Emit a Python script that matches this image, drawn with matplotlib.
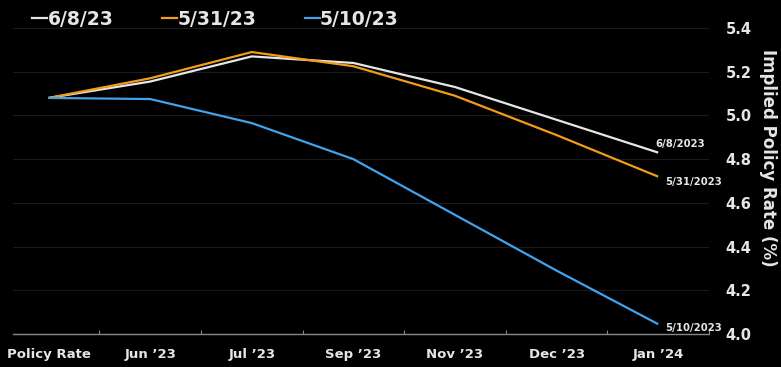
import matplotlib.pyplot as plt
from matplotlib.lines import Line2D
import numpy as np

# Data
categories = ['Policy Rate', 'Jun \u201923', 'Jul \u201923', 'Sep \u201923', 'Nov \u201923', 'Dec \u201923', 'Jan \u201924']
curve_jun8 = [5.08, 5.155, 5.27, 5.24, 5.13, 4.98, 4.83]
curve_may31 = [5.08, 5.17, 5.29, 5.225, 5.09, 4.91, 4.72]
curve_may10 = [5.08, 5.075, 4.965, 4.80, 4.545, 4.29, 4.045]
legend_labels = ['6/8/23', '5/31/23', '5/10/23']
end_labels = ['6/8/2023', '5/31/2023', '5/10/2023']
yticks = [4.0, 4.2, 4.4, 4.6, 4.8, 5.0, 5.2, 5.4]

colors = ['#e6e6e6', '#f39c1a', '#42a2ec']
series = [curve_jun8, curve_may31, curve_may10]

plt.rcParams['font.family'] = 'DejaVu Sans'
plt.rcParams['font.weight'] = 'bold'

fig = plt.figure(figsize=(7.81, 3.67), dpi=100, facecolor='black')
ax = fig.add_axes([13 / 781, 1 - 334 / 367, (709 - 13) / 781, (334 - 28) / 367])
ax.set_facecolor('black')

x = np.arange(len(categories))
for vals, c in zip(series, colors):
    ax.plot(x, vals, color=c, linewidth=1.6, solid_capstyle='butt')

# end-of-line labels
offsets = [(-2, 6), (5, -4), (5, -3)]
for vals, lab, off in zip(series, end_labels, offsets):
    ax.annotate(lab, (x[-1], vals[-1]), xytext=off, textcoords='offset points',
                color='#e6e6e6', fontsize=7.3, fontweight='bold',
                ha='left', va='center')

ax.set_xlim(-0.35, 6.5)
ax.set_ylim(4.0, 5.4)

# grid
for yv in yticks[1:]:
    ax.axhline(yv, color='#1a1a1a', linewidth=0.8, zorder=0)

ax.yaxis.tick_right()
ax.set_yticks(yticks)
ax.set_yticklabels([f'{v:.1f}' for v in yticks], color='#e6e6e6', fontsize=10.5, fontweight='bold')
ax.tick_params(axis='y', length=0, pad=12)

ax.set_xticks(x + 0.5)
ax.set_xticklabels([])
ax.set_xticks(x, minor=True)
ax.set_xticklabels(categories, minor=True, color='#e6e6e6', fontsize=9.5, fontweight='bold')
ax.tick_params(axis='x', which='minor', length=0, pad=10)
ax.tick_params(axis='x', which='major', direction='in', length=3, color='#888888')

for s in ['top', 'left', 'right']:
    ax.spines[s].set_visible(False)
ax.spines['bottom'].set_color('#888888')
ax.spines['bottom'].set_linewidth(1.0)

fig.text(768 / 781, 1 - 158 / 367, 'Implied Policy Rate (%)', rotation=270,
         color='#e6e6e6', fontsize=12, fontweight='bold', ha='center', va='center')

handles = [Line2D([], [], color=c, linewidth=1.6) for c in colors]
fig.legend(handles, legend_labels, loc='upper left', bbox_to_anchor=(0.02, 1.02),
           ncol=3, frameon=False, handlelength=0.8, handletextpad=0.0,
           columnspacing=2.6, labelcolor='#e6e6e6',
           prop={'size': 13.5, 'weight': 'bold'})

fig.savefig('out.png', dpi=100, facecolor='black')
